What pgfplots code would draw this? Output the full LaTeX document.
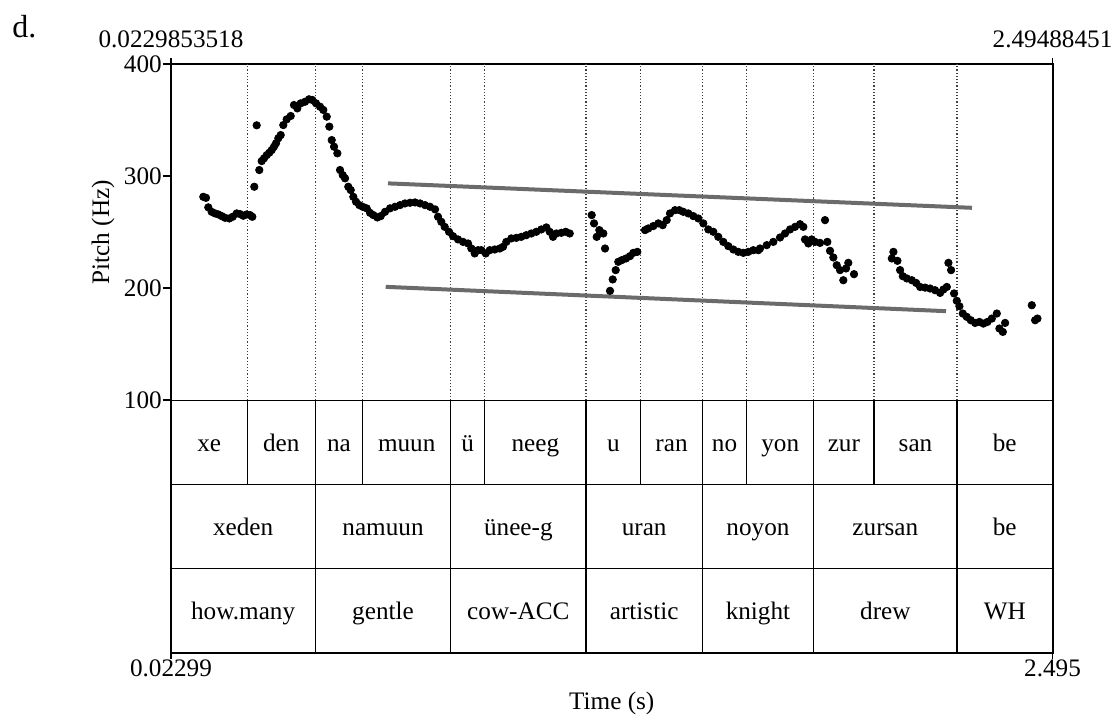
\documentclass[border=0pt]{standalone}
\usepackage{pgfplots}
\pgfplotsset{compat=1.18}
\usepackage{fontspec}
\setmainfont{Liberation Serif}
\usetikzlibrary{calc}
\newcommand\lab{\fontsize{12.6}{15}\selectfont}

% Pitch track (time in s, F0 in Hz)
\pgfplotstableread{
t f
0.1136 281.5
0.1211 280.6
0.1276 272.1
0.1371 268.1
0.1464 266.7
0.1556 265.8
0.1652 264.3
0.1744 262.8
0.1865 262.2
0.1960 263.7
0.2072 266.7
0.2165 266.1
0.2257 264.6
0.2353 265.8
0.2445 265.2
0.2510 263.7
0.2566 290.5
0.2633 345.3
0.2706 305.4
0.2773 313.4
0.2838 315.8
0.2914 318.7
0.2986 320.8
0.3054 323.2
0.3118 326.2
0.3174 329.2
0.3239 333.7
0.3306 336.6
0.3379 345.5
0.3474 350.6
0.3587 353.6
0.3679 363.4
0.3772 360.4
0.3867 364.9
0.3988 366.3
0.4100 368.5
0.4193 367.9
0.4296 364.9
0.4409 361.9
0.4501 359.0
0.4597 353.0
0.4670 344.1
0.4737 332.1
0.4802 326.2
0.4895 320.3
0.4970 305.4
0.5045 300.9
0.5110 298.0
0.5202 290.5
0.5270 287.5
0.5343 281.5
0.5418 277.1
0.5511 274.1
0.5606 272.6
0.5718 271.2
0.5811 267.2
0.5904 265.2
0.6016 263.1
0.6111 264.3
0.6232 268.1
0.6372 271.2
0.6512 272.6
0.6652 274.1
0.6792 275.6
0.6933 276.2
0.7073 276.5
0.7213 275.6
0.7353 274.1
0.7494 272.6
0.7634 270.3
0.7718 263.7
0.7810 259.2
0.7905 254.7
0.8026 250.3
0.8138 246.4
0.8278 243.5
0.8419 241.3
0.8559 239.9
0.8652 235.4
0.8747 231.0
0.8840 233.9
0.8932 233.9
0.9056 231.0
0.9168 233.9
0.9308 234.5
0.9448 235.4
0.9541 236.9
0.9633 241.3
0.9774 244.4
0.9914 244.9
1.0054 245.8
1.0194 247.3
1.0334 248.8
1.0475 250.3
1.0615 252.4
1.0755 254.2
1.0850 250.3
1.0943 245.8
1.1036 248.8
1.1176 249.4
1.1299 250.3
1.1411 248.8
1.2027 265.2
1.2092 257.8
1.2168 245.8
1.2241 251.8
1.2353 248.8
1.2401 235.4
1.2541 197.6
1.2616 207.8
1.2700 216.1
1.2773 223.5
1.2869 225.0
1.2989 226.5
1.3101 228.6
1.3194 231.5
1.3306 232.4
1.3522 251.8
1.3614 253.3
1.3754 255.4
1.3895 257.8
1.4018 256.2
1.4130 260.7
1.4223 266.7
1.4363 269.6
1.4484 269.6
1.4596 268.1
1.4736 266.7
1.4876 264.3
1.5016 262.2
1.5157 257.8
1.5297 252.4
1.5437 250.3
1.5577 245.8
1.5718 241.3
1.5858 237.5
1.5998 234.5
1.6138 232.4
1.6279 231.5
1.6419 232.4
1.6559 233.9
1.6699 233.9
1.6747 235.4
1.6935 238.4
1.7120 241.3
1.7308 245.2
1.7448 248.8
1.7589 252.4
1.7729 254.7
1.7869 257.1
1.7962 254.7
1.8009 243.5
1.8102 239.9
1.8197 243.5
1.8290 241.3
1.8430 240.4
1.8570 260.7
1.8635 241.3
1.8710 233.3
1.8803 227.4
1.8898 220.5
1.8991 216.1
1.9083 207.1
1.9159 217.6
1.9223 222.6
1.9383 212.5
2.0443 226.5
2.0488 232.4
2.0600 224.4
2.0675 216.1
2.0751 210.7
2.0863 208.7
2.1003 207.1
2.1124 204.7
2.1236 201.1
2.1376 200.5
2.1516 199.7
2.1656 198.2
2.1797 195.8
2.1889 198.8
2.1985 201.1
2.2030 222.6
2.2105 216.1
2.2189 195.3
2.2265 188.7
2.2338 183.9
2.2433 177.4
2.2545 174.4
2.2657 171.4
2.2778 169.0
2.2899 169.9
2.3011 168.4
2.3123 169.9
2.3247 172.9
2.3387 177.4
2.3460 164.0
2.3555 161.0
2.3620 169.0
2.4368 184.8
2.4461 171.4
2.4526 172.9
}\pitch

\begin{document}
\begin{tikzpicture}
\begin{axis}[
  name=ax,
  scale only axis,
  width=440.75pt, height=294.25pt,
  xmin=0.02299, xmax=2.49488,
  ymin=-125, ymax=400,
  clip=false,
  axis line style={line width=1pt},
  xtick=\empty,
  ytick={100,200,300,400},
  ytick pos=left,
  ytick align=outside,
  major tick length=4pt,
  tick style={line width=0.8pt, black},
  yticklabel style={font=\lab, inner xsep=0.4pt},
  /pgf/number format/assume math mode=true,
]
% syllable boundaries in the pitch panel, and in the syllable tier
\foreach \b in {0.2370,0.4277,0.5606,0.8073,0.9026,1.1867,1.3401,1.5128,1.6373,1.8252,1.9943,2.2271}{
  \edef\temp{\noexpand\draw[densely dotted, line width=0.6pt, black!75] (axis cs:\b,100) -- (axis cs:\b,400);
    \noexpand\draw[line width=0.6pt] (axis cs:\b,100) -- (axis cs:\b,25);}
  \temp
}
% tier separators
\foreach \y in {100,25,-50}{
  \edef\temp{\noexpand\draw[line width=0.6pt] (axis cs:0.02299,\y) -- (axis cs:2.49488,\y);}
  \temp
}
% word and gloss tier boundaries
\foreach \b in {0.4277,0.8073,1.1867,1.5128,1.8252,2.2271}{
  \edef\temp{\noexpand\draw[line width=0.6pt] (axis cs:\b,25) -- (axis cs:\b,-125);}
  \temp
}

% declination lines
\addplot[line width=2pt, color=black!58, no marks] coordinates {(0.6315,293.5) (2.2691,271.7)};
\addplot[line width=2pt, color=black!58, no marks] coordinates {(0.6251,201.2) (2.1962,179.5)};

% F0 points
\addplot[only marks, mark=*, mark size=1.85pt, black] table[x=t, y=f] {\pitch};

% syllables
\foreach \x/\s in {0.1300/xe,0.3324/den,0.4942/na,0.6840/muun,0.8550/ü,1.0447/neeg,1.2634/u,1.4265/ran,1.5751/no,1.7313/yon,1.9098/zur,2.1107/san,2.3610/be}{
  \edef\temp{\noexpand\node[font=\noexpand\lab, anchor=base, inner sep=0pt] at (axis cs:\x,54.5) {\s};}
  \temp
}
% words
\foreach \x/\s in {0.2253/xeden,0.6175/namuun,0.9970/ünee-g,1.3498/uran,1.6690/noyon,2.0262/zursan,2.3610/be}{
  \edef\temp{\noexpand\node[font=\noexpand\lab, anchor=base, inner sep=0pt] at (axis cs:\x,-20.5) {\s};}
  \temp
}
% glosses
\foreach \x/\s in {0.2253/how.many,0.6175/gentle,0.9970/cow-ACC,1.3498/artistic,1.6690/knight,2.0262/drew,2.3610/WH}{
  \edef\temp{\noexpand\node[font=\noexpand\lab, anchor=base, inner sep=0pt] at (axis cs:\x,-95.5) {\s};}
  \temp
}

\node[font=\lab, rotate=90, anchor=center] at ([xshift=-34pt]axis cs:0.02299,250) {Pitch (Hz)};
\end{axis}

% corner ticks
\draw[line width=0.8pt] (ax.north west) -- ++(0,3pt);
\draw[line width=0.8pt] (ax.north east) -- ++(0,3pt);
\draw[line width=0.8pt] (ax.south west) -- ++(0,-3pt);
\draw[line width=0.8pt] (ax.south east) -- ++(0,-3pt);

% time range labels
\node[font=\lab, anchor=base, inner sep=0pt] at ([yshift=8pt]ax.north west) {0.0229853518};
\node[font=\lab, anchor=base, inner sep=0pt] at ([yshift=8pt]ax.north east) {2.49488451};
\node[font=\lab, anchor=base, inner sep=0pt] at ([yshift=-12pt]ax.south west) {0.02299};
\node[font=\lab, anchor=base, inner sep=0pt] at ([yshift=-12pt]ax.south east) {2.495};
\node[font=\lab, anchor=base, inner sep=0pt] at ([yshift=-28.5pt]ax.south) {Time (s)};

% panel letter
\node[font=\fontsize{16}{19}\selectfont, anchor=base west, inner sep=0pt] at ([shift={(-79.5pt,13pt)}]ax.north west) {d.};

\path[use as bounding box] ([shift={(-85.5pt,-32.75pt)}]ax.south west) rectangle ([shift={(30.75pt,32pt)}]ax.north east);
\end{tikzpicture}
\end{document}
